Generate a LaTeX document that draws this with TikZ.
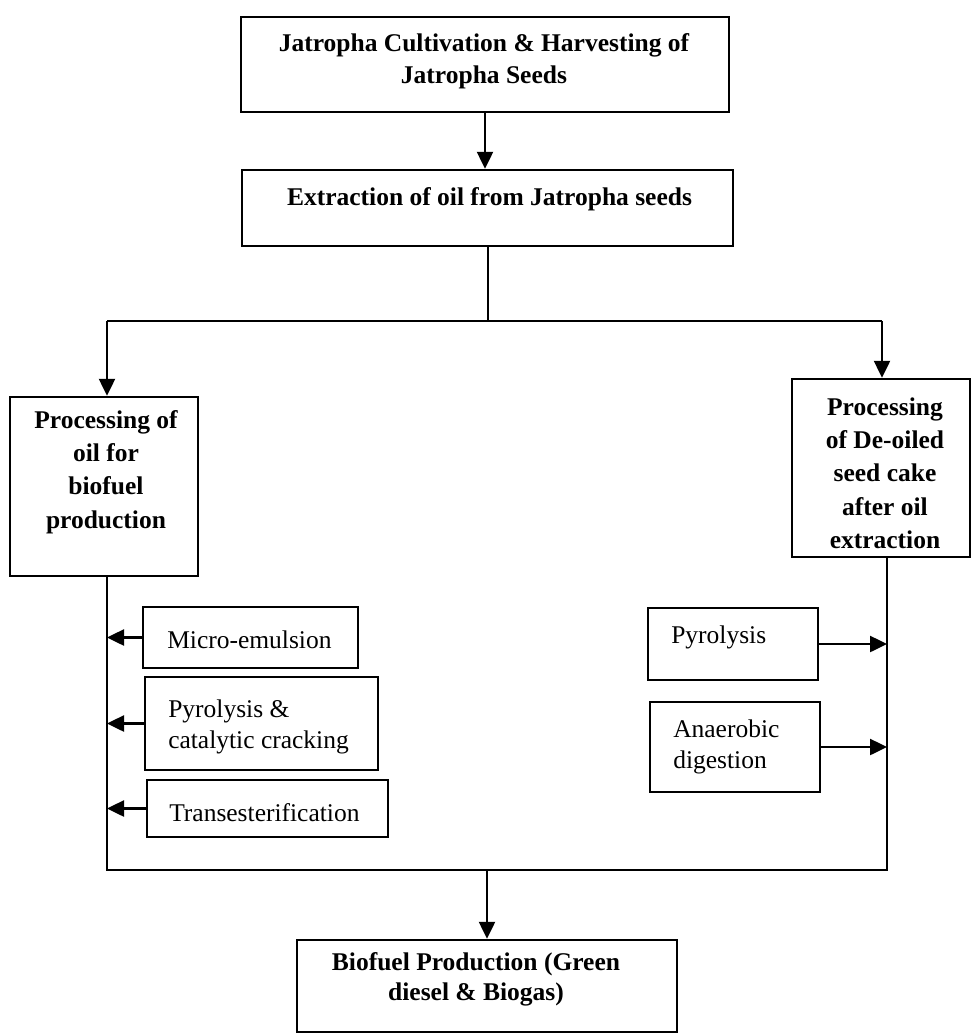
\documentclass[tikz,border=0pt]{standalone}
\usepackage{fontspec}
\setmainfont{Liberation Serif}
\usetikzlibrary{arrows.meta}
\begin{document}
\begin{tikzpicture}[x=1pt,y=-1pt,
  line width=2.5pt,
  box/.style={draw,rectangle,inner sep=0pt,line width=2.5pt},
  btxt/.style={font=\fontsize{25.5}{32}\selectfont\bfseries,align=center,inner sep=0pt},
  rtxt/.style={font=\fontsize{25.5}{30.5}\selectfont,align=left,inner sep=0pt},
  arr/.style={-{Triangle[length=17pt,width=16pt]}}
]
\useasboundingbox (0,0) rectangle (971,1036);
% top box
\node[box,minimum width=488pt,minimum height=95pt] (top) at (485,64.5) {};
\node[btxt] (toptxt) at (484,61.5) {Jatropha Cultivation \& Harvesting of\\Jatropha Seeds};
% extraction box
\node[box,minimum width=491pt,minimum height=76pt] (ext) at (487.5,208) {};
\node[btxt] (exttxt) at (489.5,199) {Extraction of oil from Jatropha seeds};
% left processing box
\node[box,minimum width=188pt,minimum height=179pt] (lp) at (104,486.5) {};
\node[btxt,font=\fontsize{25.5}{33.3}\selectfont\bfseries] (lptxt) at (106,472) {Processing of\\oil for\\biofuel\\production};
% right processing box
\node[box,minimum width=178pt,minimum height=178pt] (rp) at (881,468) {};
\node[btxt,font=\fontsize{25.5}{33.3}\selectfont\bfseries] (rptxt) at (885,473) {Processing\\of De-oiled\\seed cake\\after oil\\extraction};
% left small boxes
\node[box,minimum width=215pt,minimum height=61pt] (me) at (250.5,637.5) {};
\node[rtxt,anchor=base west] (metxt) at (166,648) {Micro-emulsion};
\node[box,minimum width=233pt,minimum height=93pt] (pc) at (261.5,723.5) {};
\node[rtxt,anchor=north west] (pctxt) at (167,699) {Pyrolysis \&\\catalytic cracking};
\node[box,minimum width=241pt,minimum height=57pt] (tr) at (267.5,808.5) {};
\node[rtxt,anchor=base west] (trtxt) at (168,821) {Transesterification};
% right small boxes
\node[box,minimum width=170pt,minimum height=72pt] (py) at (733,644) {};
\node[rtxt,anchor=base west] (pytxt) at (670,643) {Pyrolysis};
\node[box,minimum width=170pt,minimum height=90pt] (ad) at (735,747) {};
\node[rtxt,anchor=north west] (adtxt) at (672,719) {Anaerobic\\digestion};
% bottom box
\node[box,minimum width=380pt,minimum height=92pt] (bot) at (487,986) {};
\node[btxt,font=\fontsize{25.5}{30}\selectfont\bfseries] (bottxt) at (476,979.5) {Biofuel Production (Green\\diesel \& Biogas)};
% coordinates
\coordinate (split) at (488,321);
\coordinate (sl) at (107,321);
\coordinate (sr) at (882,321);
\coordinate (jl) at (107,870);
\coordinate (jr) at (887,870);
\coordinate (jm) at (487,870);
% connectors
\draw[arr] (top.south -| 485,0) -- (ext.north -| 485,0);
\draw (ext.south -| split) -- (split);
\draw (sl) -- (sr);
\draw[arr] (sl) -- (lp.north -| sl);
\draw[arr] (sr) -- (rp.north -| sr);
\draw (lp.south -| jl) -- (jl) -- (jr) -- (rp.south -| jr);
\draw[arr] (jm) -- (bot.north -| jm);
\draw[arr] (me.west) -- (me.west -| jl);
\draw[arr] (pc.west) -- (pc.west -| jl);
\draw[arr] (tr.west) -- (tr.west -| jl);
\draw[arr] (py.east) -- (py.east -| jr);
\draw[arr] (ad.east) -- (ad.east -| jr);
\end{tikzpicture}
\end{document}
